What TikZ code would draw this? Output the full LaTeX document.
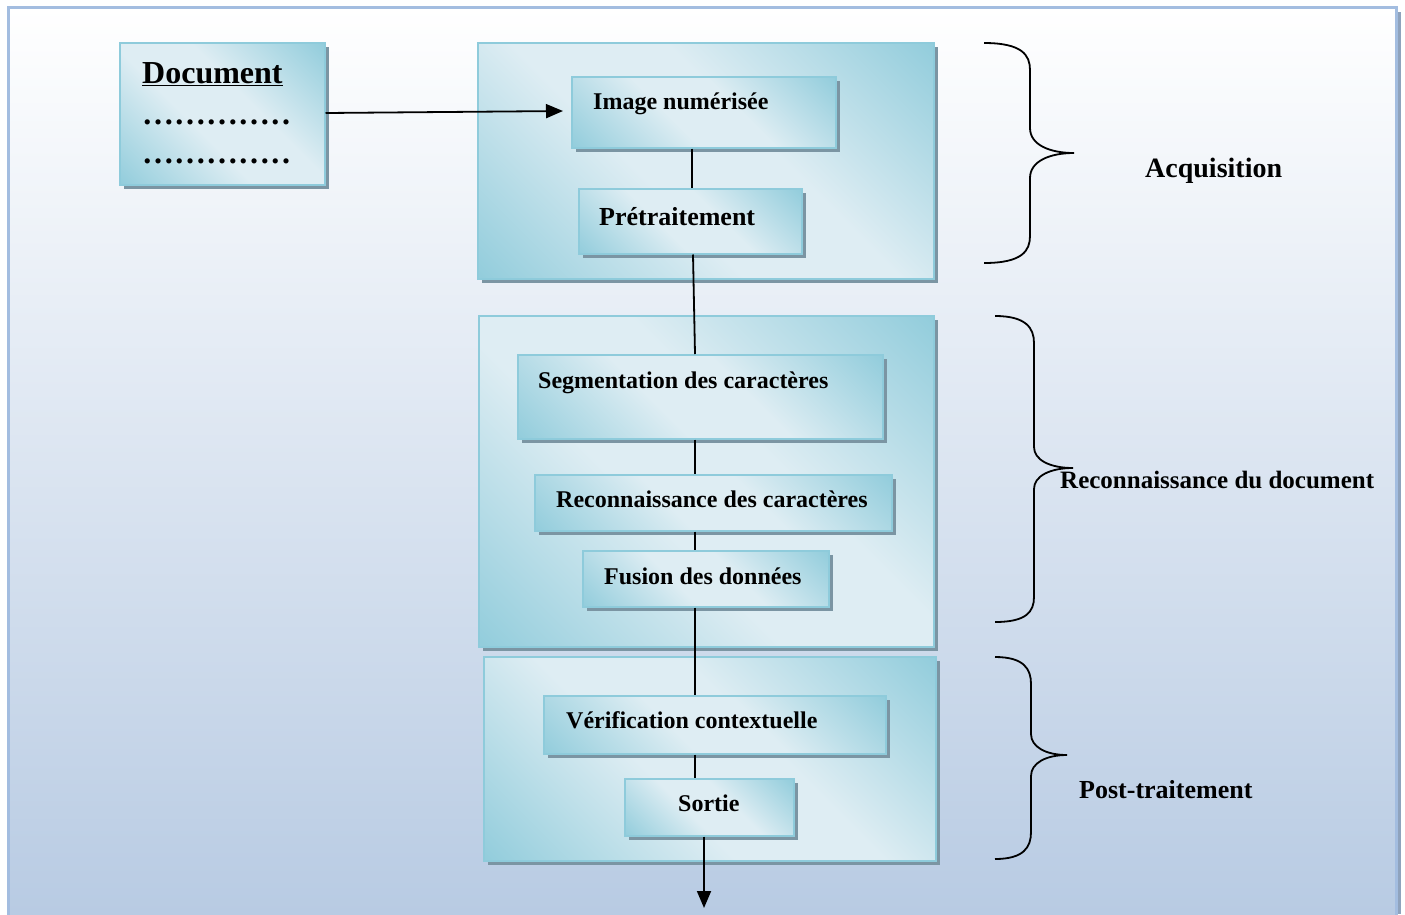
\documentclass[tikz,border=0pt]{standalone}
\usepackage{fontspec}
\setmainfont{Liberation Serif}
\usetikzlibrary{arrows.meta,shadows,calc}

\definecolor{framec}{HTML}{A3BDE0}
\definecolor{frameshade}{HTML}{8FA3BD}
\definecolor{bgbottom}{HTML}{B8CBE3}
\definecolor{tealdark}{HTML}{93CDDC}
\definecolor{teallight}{HTML}{DEEDF3}
\definecolor{tealedge}{HTML}{8ECBDB}
\definecolor{boxshade}{HTML}{7B95A3}

% dark corners, broad light band through the middle
\pgfdeclareverticalshading{panelshade}{100bp}{%
  color(0bp)=(tealdark); color(15bp)=(tealdark);
  color(42bp)=(teallight); color(58bp)=(teallight);
  color(85bp)=(tealdark); color(100bp)=(tealdark)}

\tikzset{
  panel/.style={draw=tealedge, line width=1.5pt, rectangle, anchor=north west,
    inner sep=0pt, shading=panelshade, shading angle=-45,
    drop shadow={shadow xshift=4pt, shadow yshift=-4pt, fill=boxshade, opacity=1}},
  lbl/.style={anchor=base west, inner sep=0pt, font=\bfseries\fontsize{24}{28}\selectfont},
  side/.style={anchor=base west, inner sep=0pt, font=\bfseries\fontsize{25}{30}\selectfont},
  doctext/.style={anchor=base west, inner sep=0pt, font=\bfseries\fontsize{32}{36}\selectfont},
  link/.style={line width=1.8pt, black},
  brace/.style={line width=1.8pt, black},
  tip/.style={-{Triangle[length=17pt,width=14pt]}}
}

\newcommand{\panelbox}[5]{% name, x, y, width, height
  \node[panel, minimum width=#4pt, minimum height=#5pt] (#1) at (#2,#3) {};}
\newcommand{\dotrow}{…………\kern1.3pt.\kern2.7pt.}

\begin{document}
\begin{tikzpicture}[x=1pt, y=-1pt]
\useasboundingbox (0,0) rectangle (1405,914);

% page background and frame
\fill[frameshade] (1397,12) rectangle (1401,914);
\shade[top color=white, bottom color=bgbottom] (8,7) rectangle (1396,914);
\draw[framec, line width=3pt] (8,920) -- (8,7) -- (1396,7) -- (1396,920);

% stage groups
\panelbox{gacq}{477}{42}{456}{236}
\panelbox{grec}{478}{315}{455}{331}
\panelbox{gpost}{483}{656}{452}{204}

% step boxes
\panelbox{doc}{119}{42}{205}{142}
\panelbox{img}{571}{76}{264}{71}
\panelbox{pre}{578}{188}{223}{65}
\panelbox{seg}{517}{354}{365}{84}
\panelbox{rec}{534}{474}{357}{56}
\panelbox{fus}{582}{550}{246}{56}
\panelbox{ver}{543}{695}{342}{58}
\panelbox{out}{624}{778}{169}{57}

% texts
\node[doctext] (tdoc) at (142,83) {\underline{Document}};
\node[doctext] (tdots1) at (142,124) {\dotrow};
\node[doctext] (tdots2) at (142,163) {\dotrow};
\node[lbl] (timg) at (593,109) {Image numérisée};
\node[lbl, font=\bfseries\fontsize{26}{30}\selectfont] (tpre) at (599,225) {Prétraitement};
\node[lbl] (tseg) at (538,388) {Segmentation des caractères};
\node[lbl] (trec) at (556,507) {Reconnaissance des caractères};
\node[lbl] (tfus) at (604,584) {Fusion des données};
\node[lbl] (tver) at (566,728) {Vérification contextuelle};
\node[lbl] (tout) at (678,811) {Sortie};

% connectors
\coordinate (docout) at (doc.east |- 0,113);
\coordinate (imgin) at (563,111);
\draw[link, tip] (docout) -- (imgin);
\draw[link] (img.south -| 692,0) -- (pre.north -| 692,0);
\draw[link] (pre.south -| 693,0) -- (seg.north -| 695,0);
\draw[link] (seg.south -| 695,0) -- (rec.north -| 695,0);
\draw[link] (rec.south -| 695,0) -- (fus.north -| 695,0);
\draw[link] (fus.south -| 695,0) -- (ver.north -| 695,0);
\draw[link] (ver.south -| 695,0) -- (out.north -| 695,0);
\coordinate (outend) at (704,908);
\draw[link, tip] (out.south -| 704,0) -- (outend);

% braces
\draw[brace] (984,43) .. controls (1022,43) and (1030,55) .. (1030,70)
  -- (1030,128) .. controls (1030,145) and (1050,153) .. (1074,153)
  .. controls (1050,153) and (1030,161) .. (1030,178)
  -- (1030,236) .. controls (1030,251) and (1022,263) .. (984,263);
\draw[brace] (995,316) .. controls (1026,316) and (1034,328) .. (1034,343)
  -- (1034,447) .. controls (1034,460) and (1050,468) .. (1073,468)
  .. controls (1050,468) and (1034,476) .. (1034,489)
  -- (1034,597) .. controls (1034,612) and (1026,622) .. (995,622);
\draw[brace] (995,657) .. controls (1024,657) and (1031,669) .. (1031,684)
  -- (1031,734) .. controls (1031,747) and (1046,755) .. (1067,755)
  .. controls (1046,755) and (1031,763) .. (1031,776)
  -- (1031,832) .. controls (1031,847) and (1024,859) .. (995,859);

% stage names
\node[side, font=\bfseries\fontsize{28}{32}\selectfont] (sacq) at (1145,177) {Acquisition};
\node[side] (srec) at (1060,488) {Reconnaissance du document};
\node[side, font=\bfseries\fontsize{26}{30}\selectfont] (spost) at (1079,798) {Post-traitement};
\end{tikzpicture}
\end{document}
